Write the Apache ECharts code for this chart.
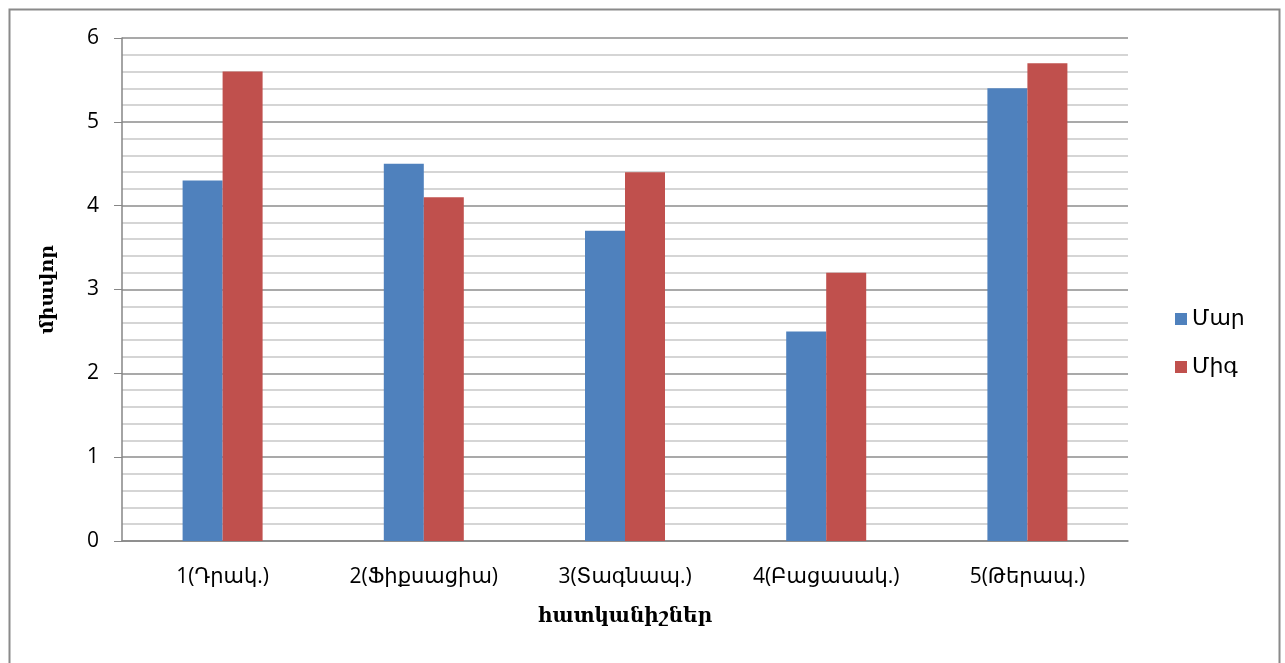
<!DOCTYPE html>
<html>
<head>
<meta charset="utf-8">
<script src="https://cdn.jsdelivr.net/npm/echarts@6/dist/echarts.min.js"></script>
<style>
html,body{margin:0;padding:0;background:#fff;}
#c{width:1285px;height:663px;}
</style>
</head>
<body>
<div id="c"></div>
<script>
const categories = ['1(Դրակ.)', '2(Ֆիքսացիա)', '3(Տագնապ.)', '4(Բացասակ.)', '5(Թերապ.)'];
const seriesNames = ['Մար', 'Միգ'];
const marValues = [4.3, 4.5, 3.7, 2.5, 5.4];
const migValues = [5.6, 4.1, 4.4, 3.2, 5.7];
const yTicks = [0, 1, 2, 3, 4, 5, 6];

const SANS = '"Open Sans", "DejaVu Sans", sans-serif';
const SERIF = '"DejaVu Serif", "DejaVu Sans", serif';

const chart = echarts.init(document.getElementById('c'), null, {renderer: 'canvas'});
chart.setOption({
  animation: false,
  backgroundColor: '#fff',
  graphic: [{
    type: 'rect', left: 7, top: 7, shape: {x: 0, y: 0, width: 1270, height: 700},
    style: {fill: 'none', stroke: '#8a8a8a', lineWidth: 2}, silent: true
  }],
  grid: {left: 122, right: 157, top: 38, bottom: 122},
  legend: {
    orient: 'vertical', left: 1170, top: 303,
    itemWidth: 12, itemHeight: 12, itemGap: 26,
    icon: 'rect',
    textStyle: {fontFamily: SANS, fontSize: 22, color: '#000'},
    data: seriesNames
  },
  xAxis: {
    type: 'category', data: categories,
    axisLine: {lineStyle: {color: '#868686', width: 1.5}},
    axisTick: {show: false},
    axisLabel: {fontFamily: SANS, fontSize: 21, color: '#000', margin: 26, interval: 0},
    name: 'հատկանիշներ', nameLocation: 'middle', nameGap: 66,
    nameTextStyle: {fontFamily: SERIF, fontWeight: 'bold', fontSize: 20, color: '#000'}
  },
  yAxis: {
    type: 'value', min: yTicks[0], max: yTicks[yTicks.length - 1], interval: 1,
    axisLine: {show: true, lineStyle: {color: '#868686', width: 1.5}},
    axisTick: {show: true, length: 8, lineStyle: {color: '#868686'}},
    minorTick: {show: false, splitNumber: 5},
    splitLine: {show: true, lineStyle: {color: '#8c8c8c', width: 1.5}},
    minorSplitLine: {show: true, lineStyle: {color: '#c8c8c8', width: 1.5}},
    axisLabel: {fontFamily: SANS, fontSize: 21, color: '#000', margin: 23},
    name: 'միավոր', nameLocation: 'middle', nameGap: 64, nameRotate: 90,
    nameTextStyle: {fontFamily: SERIF, fontWeight: 'bold', fontSize: 19, color: '#000'}
  },
  series: [
    {name: seriesNames[0], type: 'bar', data: marValues, barWidth: 40, barGap: '0%',
      itemStyle: {color: '#4F81BD'}},
    {name: seriesNames[1], type: 'bar', data: migValues, barWidth: 40, barGap: '0%',
      itemStyle: {color: '#C0504D'}}
  ]
});
</script>
</body>
</html>
